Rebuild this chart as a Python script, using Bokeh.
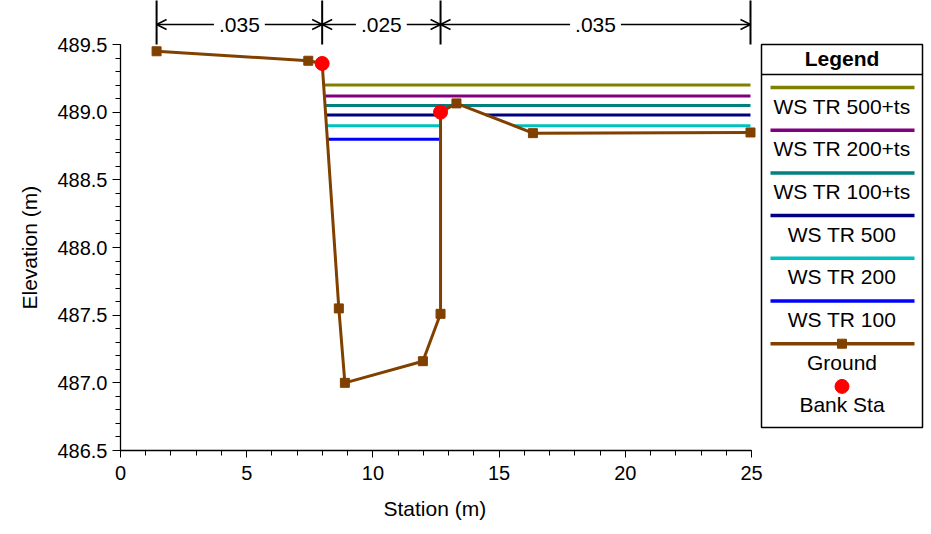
from bokeh.plotting import figure
from bokeh.models import FixedTicker, Arrow, OpenHead, Label, Title
from bokeh.core.properties import value
from bokeh.embed import file_html
from bokeh.resources import INLINE

# ---------------- data ----------------
ground_station = [1.43, 7.44, 7.99, 8.65, 8.89, 11.98, 12.68, 12.68, 13.31, 16.34, 24.96]
ground_elev = [489.45, 489.38, 489.36, 487.55, 487.00, 487.16, 487.51, 489.00, 489.065, 488.845, 488.85]

bank_station = [7.99, 12.68]
bank_elev = [489.36, 489.00]

ws_names = ["WS TR 500+ts", "WS TR 200+ts", "WS TR 100+ts", "WS TR 500", "WS TR 200", "WS TR 100"]
ws_elev = [489.20, 489.12, 489.05, 488.98, 488.90, 488.80]
ws_colors = ["#808000", "#800080", "#008080", "#000080", "#00C0C0", "#0000FF"]

manning_n = [".035", ".025", ".035"]

x_ticks = [0, 5, 10, 15, 20, 25]
y_ticks = [486.5, 487.0, 487.5, 488.0, 488.5, 489.0, 489.5]
y_tick_labels = ["486.5", "487.0", "487.5", "488.0", "488.5", "489.0", "489.5"]
x_title = "Station (m)"
y_title = "Elevation (m)"

GROUND_COLOR = "#804000"
BANK_COLOR = "#FF0000"
FONT = "Liberation Sans"

# ---------------- layout (pixels) ----------------
W, H = 931, 534
FRAME_L, FRAME_B = 120, 450      # canvas px
PXX = 25.24                      # px per station metre
PXY = 135.33                     # px per elevation metre
X_END = (W - FRAME_L) / PXX
Y_END = 486.5 + FRAME_B / PXY


def dx(sx):
    """canvas x pixel -> station"""
    return (sx - FRAME_L) / PXX


def dy(sy):
    """canvas y pixel -> elevation"""
    return 486.5 + (FRAME_B - sy) / PXY


def wet_segments(ws):
    segs = []
    pts = list(zip(ground_station, ground_elev))
    for (x0, z0), (x1, z1) in zip(pts[:-1], pts[1:]):
        if x1 == x0:
            continue
        if z0 >= ws and z1 >= ws:
            continue
        if z0 < ws and z1 < ws:
            a, b = x0, x1
        elif z0 < ws:
            a, b = x0, x0 + (ws - z0) / (z1 - z0) * (x1 - x0)
        else:
            a, b = x0 + (ws - z0) / (z1 - z0) * (x1 - x0), x1
        if segs and abs(segs[-1][1] - a) < 1e-9:
            segs[-1][1] = b
        else:
            segs.append([a, b])
    return segs


p = figure(width=W, height=H, x_range=(0, X_END), y_range=(486.5, Y_END),
           output_backend="svg", toolbar_location=None, title=None,
           min_border_left=FRAME_L, min_border_right=0, min_border_top=0,
           min_border_bottom=H - FRAME_B)
p.outline_line_color = None
p.background_fill_color = "white"
p.border_fill_color = "white"
p.xgrid.visible = False
p.ygrid.visible = False

# axes
p.xaxis.ticker = FixedTicker(ticks=x_ticks, minor_ticks=list(range(0, 26)))
p.yaxis.ticker = FixedTicker(ticks=y_ticks, minor_ticks=[round(486.5 + 0.1 * i, 1) for i in range(31)])
p.yaxis.major_label_overrides = {t: l for t, l in zip(y_ticks, y_tick_labels)}
p.xaxis.bounds = (0, 25)
p.yaxis.bounds = (486.5, 489.5)
for ax in (p.xaxis[0], p.yaxis[0]):
    ax.axis_line_color = "black"
    ax.axis_line_width = 1.3
    ax.major_tick_line_color = "black"
    ax.minor_tick_line_color = "black"
    ax.major_tick_in = 0
    ax.minor_tick_in = 0
    ax.minor_tick_out = 5
    ax.major_label_text_font = FONT
    ax.major_label_text_font_size = "20px"
    ax.major_label_text_color = "black"
p.xaxis.major_tick_out = 7
p.yaxis.major_tick_out = 8
p.xaxis.major_label_standoff = 8

# axis titles, centred on the axis bounds (not on the wider frame);
# offsets are the pixel positions of the text starts measured on the reference
p.add_layout(Title(text=x_title, align="left", offset=383 - FRAME_L,
                   standoff=24, text_font=FONT, text_font_size="21px",
                   text_font_style="normal", text_color="black"), "below")
p.add_layout(Title(text=y_title, align="left", offset=FRAME_B - 309,
                   standoff=27, text_font=FONT, text_font_size="21px",
                   text_font_style="normal", text_color="black"), "left")

# water surfaces
for name, z, c in zip(ws_names, ws_elev, ws_colors):
    segs = wet_segments(z)
    p.multi_line(xs=[[a, b] for a, b in segs], ys=[[z, z] for _ in segs],
                 line_color=c, line_width=3)

# ground
p.line(ground_station, ground_elev, line_color=GROUND_COLOR, line_width=3)
p.scatter(ground_station, ground_elev, marker="square", size=9,
          fill_color=GROUND_COLOR, line_color=GROUND_COLOR)
# bank stations
p.scatter(bank_station, bank_elev, marker="circle", size=14,
          fill_color=BANK_COLOR, line_color=BANK_COLOR)

# Manning's n annotation
bounds = [ground_station[0], bank_station[0], bank_station[1], ground_station[-1]]
p.segment(x0=bounds, x1=bounds, y0=[dy(44)] * 4, y1=[dy(-5)] * 4,
          line_color="black", line_width=2)
ya = dy(24)
for i, n in enumerate(manning_n):
    b0, b1 = bounds[i], bounds[i + 1]
    p.add_layout(Arrow(x_start=b0, x_end=b1, y_start=ya, y_end=ya,
                       line_color="black", line_width=1.5,
                       start=OpenHead(size=10, line_width=1.5, line_color="black"),
                       end=OpenHead(size=10, line_width=1.5, line_color="black")))
for i, n in enumerate(manning_n):
    b0, b1 = bounds[i], bounds[i + 1]
    p.add_layout(Label(x=(b0 + b1) / 2, y=ya, text=n, text_align="center",
                       text_baseline="middle", text_font=FONT,
                       text_font_size="21px", text_color="black",
                       background_fill_color="white", padding=5))

# legend box (drawn by hand)
LX0, LX1, LY0, LY1 = 761, 922, 44, 427
LCX = (LX0 + LX1) / 2
p.quad(left=dx(LX0), right=dx(LX1), top=dy(LY0), bottom=dy(LY1),
       fill_color="white", line_color="black", line_width=1.5)
p.segment(x0=dx(LX0), x1=dx(LX1), y0=dy(74), y1=dy(74), line_color="black", line_width=1.5)
p.text(x=[dx(LCX)], y=[dy(58)], text=["Legend"], text_align="center",
       text_baseline="middle", text_font=value(FONT), text_font_size=value("21px"),
       text_font_style="bold", text_color="black")

ITEM_DY = 42.7
leg_names = ws_names + ["Ground", "Bank Sta"]
leg_colors = ws_colors + [GROUND_COLOR]
for i, c in enumerate(leg_colors):
    yy = dy(87 + i * ITEM_DY)
    p.line([dx(770), dx(914)], [yy, yy], line_color=c, line_width=3.5)
p.scatter([dx(LCX)], [dy(87 + 6 * ITEM_DY)], marker="square", size=9,
          fill_color=GROUND_COLOR, line_color=GROUND_COLOR)
p.scatter([dx(LCX)], [dy(87 + 7 * ITEM_DY)], marker="circle", size=14,
          fill_color=BANK_COLOR, line_color=BANK_COLOR)
p.text(x=[dx(LCX)] * len(leg_names),
       y=[dy(87 + i * ITEM_DY + 18.5) for i in range(len(leg_names))],
       text=leg_names, text_align="center", text_baseline="middle",
       text_font=value(FONT), text_font_size=value("21px"), text_color="black")

open("out.html", "w").write(file_html(p, INLINE))
